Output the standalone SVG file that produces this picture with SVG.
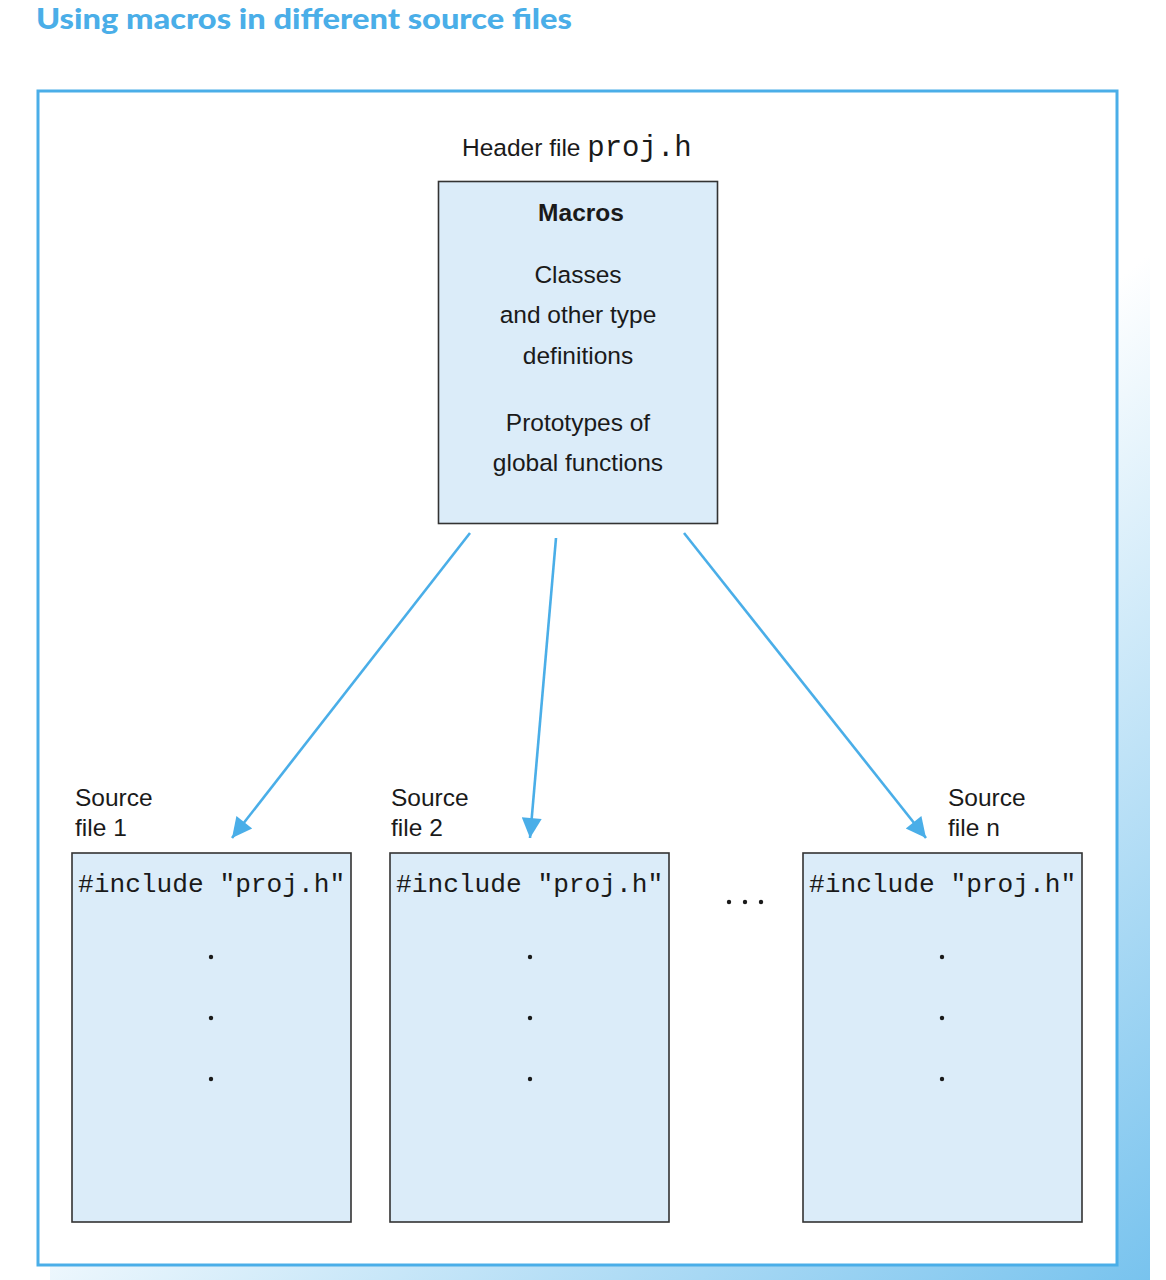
<svg xmlns="http://www.w3.org/2000/svg" width="1166" height="1280" viewBox="0 0 1166 1280">
<style>
.sans{font-family:"Liberation Sans",Arial,sans-serif;font-size:24.5px;fill:#1a1a1a}
.mono{font-family:"Liberation Mono","Courier New",monospace;font-size:26.2px;fill:#1a1a1a}
.box{fill:#dbecf9;stroke:#333;stroke-width:1.6}
.conn{stroke:#4aaee8;stroke-width:2.6;fill:none}
.dot{fill:#1a1a1a}
</style>
<defs>
<linearGradient id="shade" gradientUnits="userSpaceOnUse" x1="650" y1="650" x2="1150" y2="1280">
<stop offset="0" stop-color="#ffffff"/>
<stop offset="1" stop-color="#78c3ee"/>
</linearGradient>
<marker id="ah" viewBox="0 0 20 20" refX="20" refY="10" markerWidth="22" markerHeight="20" orient="auto" markerUnits="userSpaceOnUse">
<path d="M0,0 L20,10 L0,20 z" fill="#4aaee8"/>
</marker>
</defs>
<rect width="1166" height="1280" fill="#ffffff"/>
<text x="36" y="29" font-family="Lato,'Open Sans',sans-serif" font-weight="900" font-size="29" fill="#4aaee8" textLength="536" lengthAdjust="spacingAndGlyphs">Using macros in different source files</text>
<rect x="50" y="110" width="1100" height="1170" fill="url(#shade)"/>
<rect id="frame" x="38" y="91" width="1079" height="1174" fill="#ffffff" stroke="#4aaee8" stroke-width="3"/>
<g id="header">
<text class="sans" x="462" y="156">Header file <tspan class="mono" style="font-size:29px">proj.h</tspan></text>
<rect class="box" x="438.5" y="181.5" width="279" height="342"/>
<text class="sans" x="581" y="221" text-anchor="middle" font-weight="bold">Macros</text>
<text class="sans" x="578" y="283" text-anchor="middle">Classes</text>
<text class="sans" x="578" y="323" text-anchor="middle">and other type</text>
<text class="sans" x="578" y="364" text-anchor="middle">definitions</text>
<text class="sans" x="578" y="431" text-anchor="middle">Prototypes of</text>
<text class="sans" x="578" y="471" text-anchor="middle">global functions</text>
</g>
<g id="connectors">
<line class="conn" x1="470" y1="533" x2="232" y2="838" marker-end="url(#ah)"/>
<line class="conn" x1="556" y1="538" x2="530" y2="838" marker-end="url(#ah)"/>
<line class="conn" x1="684" y1="533" x2="926" y2="838" marker-end="url(#ah)"/>
</g>
<g id="source1">
<text class="sans" x="75" y="806">Source</text>
<text class="sans" x="75" y="836">file 1</text>
<rect class="box" x="72" y="853" width="279" height="369"/>
<text class="mono" x="78" y="892">#include "proj.h"</text>
<circle class="dot" cx="211" cy="957" r="2.2"/>
<circle class="dot" cx="211" cy="1018" r="2.2"/>
<circle class="dot" cx="211" cy="1079" r="2.2"/>
</g>
<g id="source2">
<text class="sans" x="391" y="806">Source</text>
<text class="sans" x="391" y="836">file 2</text>
<rect class="box" x="390" y="853" width="279" height="369"/>
<text class="mono" x="396" y="892">#include "proj.h"</text>
<circle class="dot" cx="530" cy="957" r="2.2"/>
<circle class="dot" cx="530" cy="1018" r="2.2"/>
<circle class="dot" cx="530" cy="1079" r="2.2"/>
</g>
<g id="ellipsis">
<circle class="dot" cx="729" cy="902" r="2.2"/>
<circle class="dot" cx="745" cy="902" r="2.2"/>
<circle class="dot" cx="761" cy="902" r="2.2"/>
</g>
<g id="sourceN">
<text class="sans" x="948" y="806">Source</text>
<text class="sans" x="948" y="836">file n</text>
<rect class="box" x="803" y="853" width="279" height="369"/>
<text class="mono" x="809" y="892">#include "proj.h"</text>
<circle class="dot" cx="942" cy="957" r="2.2"/>
<circle class="dot" cx="942" cy="1018" r="2.2"/>
<circle class="dot" cx="942" cy="1079" r="2.2"/>
</g>
</svg>
